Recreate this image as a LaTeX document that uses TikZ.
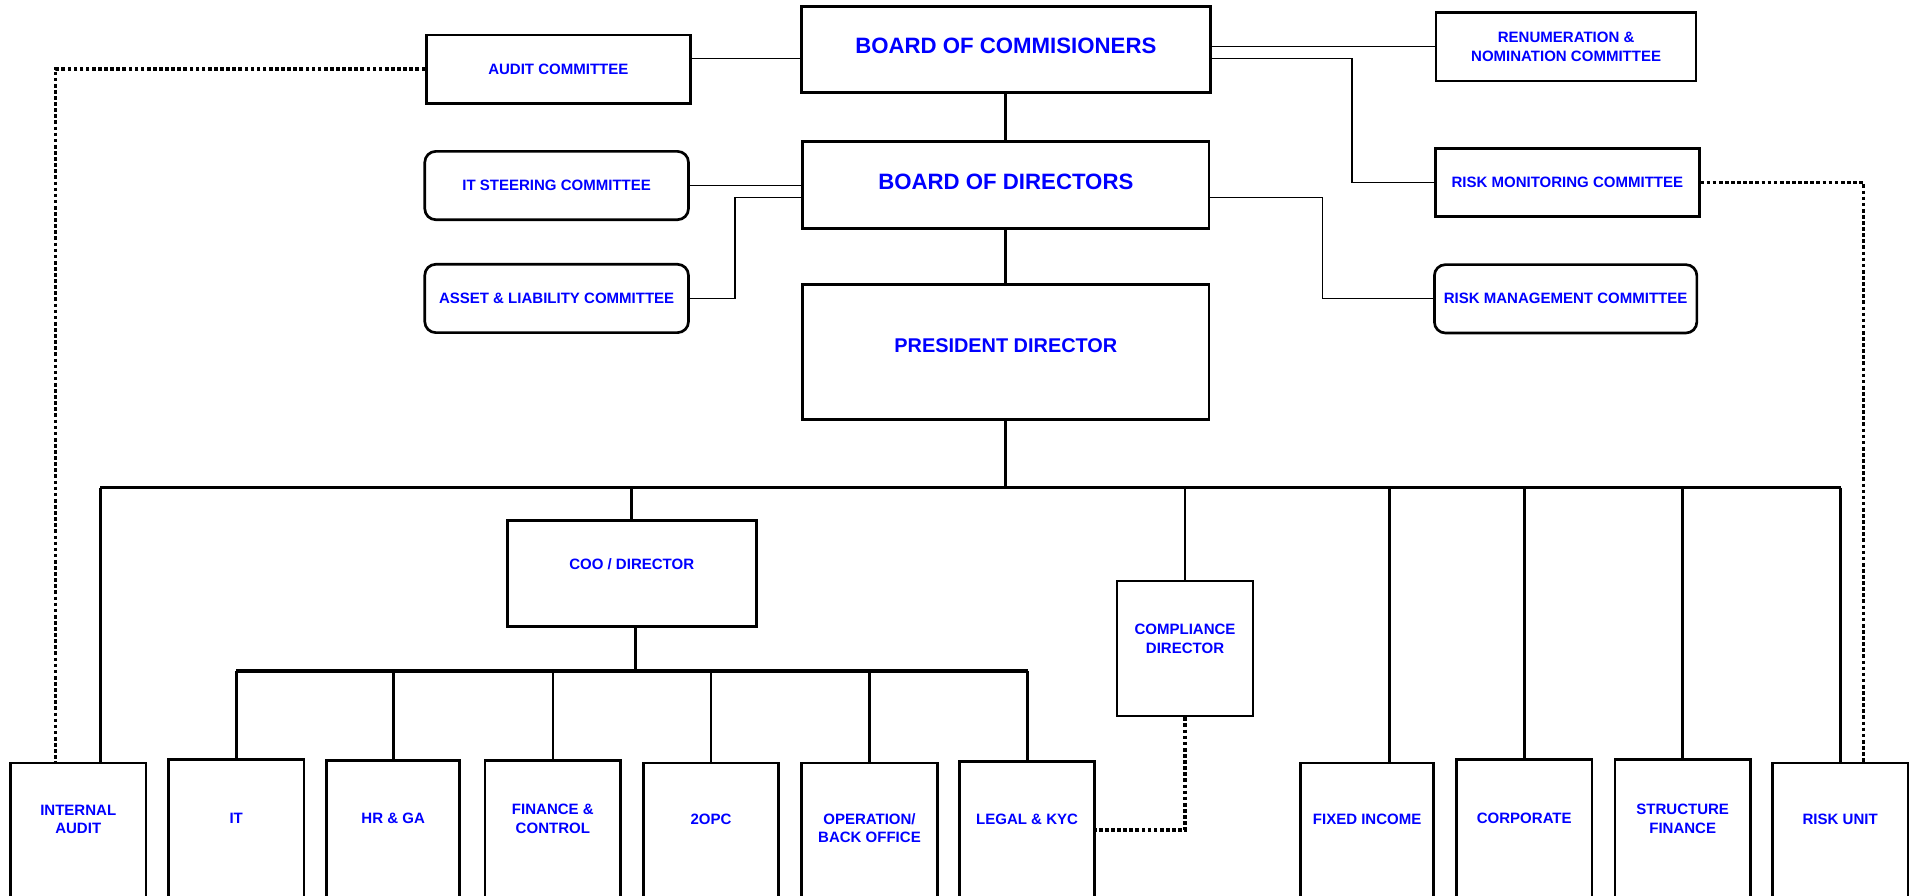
\documentclass[tikz,border=0pt]{standalone}
\usepackage{fontspec}
\setmainfont{Liberation Sans}

\begin{document}
\begin{tikzpicture}[x=1pt, y=-1pt,
    box/.style={draw, line width=2.2pt, inner sep=0pt, text=blue, align=center,
        font=\bfseries\fontsize{12.3}{15}\selectfont},
    rbox/.style={box, rounded corners=9pt},
    bigbox/.style={box, text depth=6pt, font=\bfseries\fontsize{18.2}{22}\selectfont},
    unitbox/.style={draw, line width=2.2pt, anchor=north, minimum width=111pt, minimum height=160pt},
    lbl/.style={text=blue, align=center, inner sep=0pt, font=\bfseries\fontsize{12.3}{15}\selectfont},
    link/.style={line width=1pt},
    tree/.style={line width=2.2pt},
    bus/.style={line width=2.8pt},
    dotline/.style={line width=3pt, dash pattern=on 3pt off 2pt}]

    \useasboundingbox (0,0) rectangle (1568,734);
    \clip (0,0) rectangle (1568,734);

    % Boards and committees
    \node[bigbox, minimum width=335pt, minimum height=70pt] (boc) at (824,40.5) {BOARD OF COMMISIONERS};
    \node[bigbox, minimum width=333pt, minimum height=71pt] (bod) at (824,151.5) {BOARD OF DIRECTORS};
    \node[box, minimum width=216pt, minimum height=56pt] (aud) at (457.4,56.6) {AUDIT COMMITTEE};
    \node[box, minimum width=213pt, minimum height=56pt] (ren) at (1283,38.4) {RENUMERATION \&\\NOMINATION COMMITTEE};
    \node[rbox, minimum width=216pt, minimum height=56pt] (itsc) at (456,152) {IT STEERING COMMITTEE};
    \node[rbox, minimum width=216pt, minimum height=56pt] (alco) at (456,244.5) {ASSET \& LIABILITY COMMITTEE};
    \node[box, minimum width=216pt, minimum height=56pt] (rmon) at (1284,149.5) {RISK MONITORING COMMITTEE};
    \node[rbox, minimum width=215pt, minimum height=56pt] (rman) at (1282.6,244.8) {RISK MANAGEMENT COMMITTEE};

    % Directors
    \node[box, minimum width=333pt, minimum height=111pt] (pres) at (824,288.4) {};
    \node[lbl, font=\bfseries\fontsize{16.3}{20}\selectfont] (prest) at (824,283.4) {PRESIDENT DIRECTOR};
    \node[box, minimum width=204pt, minimum height=86.5pt] (coo) at (517.5,469.8) {};
    \node[lbl] (coot) at (517.5,461.8) {COO / DIRECTOR};
    \node[box, minimum width=111.6pt, minimum height=110.6pt] (comp) at (970.8,531.3) {};
    \node[lbl] (compt) at (970.8,523.4) {COMPLIANCE\\DIRECTOR};

    % Units
    \node[unitbox] (ia) at (64.1,624) {};
    \node[lbl] (iat) at (64.1,671.5) {INTERNAL\\AUDIT};
    \node[unitbox] (it) at (193.5,621.2) {};
    \node[lbl] (itt) at (193.5,670.7) {IT};
    \node[unitbox, minimum width=109pt] (hr) at (322.1,622) {};
    \node[lbl] (hrt) at (322.1,670.6) {HR \& GA};
    \node[unitbox] (fin) at (452.9,622) {};
    \node[lbl] (fint) at (452.9,670.8) {FINANCE \&\\CONTROL};
    \node[unitbox] (opc) at (582.5,624) {};
    \node[lbl] (opct) at (582.5,671) {2OPC};
    \node[unitbox] (ops) at (712.3,624) {};
    \node[lbl] (opst) at (712.3,678.5) {OPERATION/\\BACK OFFICE};
    \node[unitbox] (leg) at (841.4,622.8) {};
    \node[lbl] (legt) at (841.4,671) {LEGAL \& KYC};
    \node[unitbox, minimum width=109pt] (fix) at (1120,624) {};
    \node[lbl] (fixt) at (1120,671.2) {FIXED INCOME};
    \node[unitbox] (corp) at (1248.7,621.2) {};
    \node[lbl] (corpt) at (1248.7,670.6) {CORPORATE};
    \node[unitbox] (sf) at (1378.5,621.2) {};
    \node[lbl] (sft) at (1378.5,670.8) {STRUCTURE\\FINANCE};
    \node[unitbox] (risk) at (1507.5,624) {};
    \node[lbl] (riskt) at (1507.5,671) {RISK UNIT};

    % Committee links
    \draw[link] ([yshift=8.8pt]aud.east) -- ([yshift=8.8pt]aud.east -| boc.west);
    \draw[link] (ren.west -| boc.east) -- (ren.west);
    \draw[link] ([yshift=-7.3pt]boc.east) -- ++(115,0) |- (rmon.west);
    \draw[link] (itsc.east) -- (itsc.east -| bod.west);
    \draw[link] (alco.east) -- ++(37,0) |- ([yshift=-10pt]bod.west);
    \draw[link] ([yshift=-10pt]bod.east) -- ++(92,0) |- (rman.west);

    % Main line
    \draw[tree] (boc.south) -- (bod.north);
    \draw[tree] (bod.south) -- (pres.north);
    \coordinate (busL) at (82.2,399.5);
    \coordinate (busR) at (1508,399.5);
    \draw[tree] (pres.south) -- (pres.south |- busL);
    \draw[bus] (busL) -- (busR);
    \draw[tree] (busL) -- (busL |- ia.north);
    \draw[tree] (coo.north |- busL) -- (coo.north);
    \draw[tree] (comp.north |- busL) -- (comp.north);
    \draw[tree] ([xshift=18.5pt]fix.north |- busL) -- ([xshift=18.5pt]fix.north);
    \draw[tree] (corp.north |- busL) -- (corp.north);
    \draw[tree] (sf.north |- busL) -- (sf.north);
    \draw[tree] (busR) -- (busR |- risk.north);

    % COO line
    \coordinate (subL) at (193.5,549.7);
    \coordinate (subR) at (841.9,549.7);
    \draw[tree] ([xshift=3pt]coo.south) -- ([xshift=3pt]coo.south |- subL);
    \draw[bus] (subL) -- (subR);
    \draw[tree] (it.north |- subL) -- (it.north);
    \draw[tree] (hr.north |- subL) -- (hr.north);
    \draw[tree] (fin.north |- subL) -- (fin.north);
    \draw[tree] (opc.north |- subL) -- (opc.north);
    \draw[tree] (ops.north |- subL) -- (ops.north);
    \draw[tree] (subR) -- (subR |- leg.north);

    % Dotted reporting lines
    \draw[dotline] (aud.west) -| ([xshift=-18.7pt]ia.north);
    \draw[dotline] (rmon.east) -| ([xshift=19pt]risk.north);
    \draw[dotline] (comp.south) |- ([yshift=23.8pt]leg.east);

\end{tikzpicture}
\end{document}
